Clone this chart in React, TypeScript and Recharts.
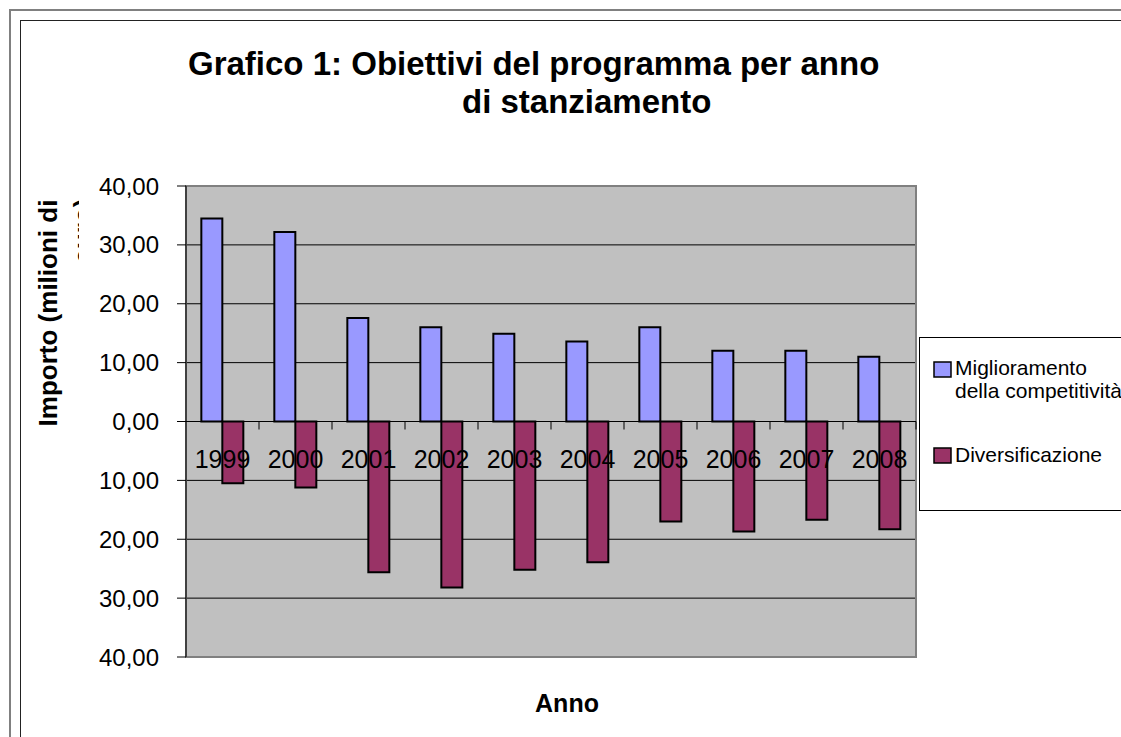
import { BarChart, Bar, XAxis, YAxis, CartesianGrid, ReferenceLine, ReferenceDot, ReferenceArea } from "recharts";

const YEARS = ["1999", "2000", "2001", "2002", "2003", "2004", "2005", "2006", "2007", "2008"];
// Diversificazione is plotted below zero, as in the original sheet
const MIGLIORAMENTO = [34.5, 32.2, 17.6, 16.0, 14.9, 13.6, 16.0, 12.0, 12.0, 11.0];
const DIVERSIFICAZIONE = [-10.5, -11.2, -25.6, -28.2, -25.2, -23.9, -17.0, -18.7, -16.7, -18.3];
const Y_TICKS = [40, 30, 20, 10, 0, -10, -20, -30, -40];
const GRID_VALUES = [30, 20, 10, 0, -10, -20, -30];

const SERIES = [
  { key: "migl", name: ["Miglioramento", "della competitività"], color: "#9999FF" },
  { key: "div", name: ["Diversificazione"], color: "#993366" },
];

const FONT = "'Liberation Sans', Arial, sans-serif";

const chartData = YEARS.map((year, i) => ({
  year,
  migl: MIGLIORAMENTO[i],
  div: DIVERSIFICAZIONE[i],
}));

// y labels are shown without sign, Italian decimal comma
const fmtTick = (v: number) => Math.abs(v).toFixed(2).replace(".", ",");

// zero line acts as the category axis: line + small ticks between categories
function ZeroAxis(props: any) {
  const { x1, y1, x2 } = props;
  const step = (x2 - x1) / YEARS.length;
  return (
    <g>
      <line x1={x1} y1={y1} x2={x2} y2={y1} stroke="#000" strokeWidth={1} />
      {YEARS.map((_, i) => (
        <line key={i} x1={x1 + (i + 1) * step} y1={y1} x2={x1 + (i + 1) * step} y2={y1 + 8} stroke="#000" strokeWidth={1} />
      ))}
    </g>
  );
}

export default function App() {
  return (
    <div style={{ position: "fixed", left: 0, top: 0, width: 1121, height: 737, overflow: "hidden", background: "#fff" }}>
      <svg width={1121} height={737} style={{ position: "absolute", left: 0, top: 0 }}>
        <defs>
          <clipPath id="euroClip">
            <rect x={0} y={0} width={79} height={737} />
          </clipPath>
        </defs>
        <rect x={10} y={10} width={1200} height={800} fill="none" stroke="#808080" strokeWidth={2} />
        <rect x={20.5} y={20.5} width={1200} height={800} fill="none" stroke="#222" strokeWidth={1} />
        <text x={188} y={75} fontFamily={FONT} fontWeight="bold" fontSize={33} fill="#000">
          Grafico 1: Obiettivi del programma per anno
        </text>
        <text x={462} y={113} fontFamily={FONT} fontWeight="bold" fontSize={33} fill="#000">
          di stanziamento
        </text>
        <text x={57} y={313} transform="rotate(-90 57 313)" textAnchor="middle" fontFamily={FONT} fontWeight="bold" fontSize={26} fill="#000">
          Importo (milioni di
        </text>
        <g clipPath="url(#euroClip)">
          <text x={92} y={231} transform="rotate(-90 92 231)" textAnchor="middle" fontFamily={FONT} fontWeight="bold" fontSize={26} fill="#000">
            euro)
          </text>
        </g>
        <text x={567} y={712} textAnchor="middle" fontFamily={FONT} fontWeight="bold" fontSize={25} fill="#000">
          Anno
        </text>
        {/* legend */}
        <rect x={919.5} y={337.5} width={260} height={173} fill="#fff" stroke="#000" strokeWidth={1} />
        <rect x={934} y={362} width={17} height={15} fill={SERIES[0].color} stroke="#000" strokeWidth={1.5} />
        <text x={955} y={375} fontFamily={FONT} fontSize={21} fill="#000">{SERIES[0].name[0]}</text>
        <text x={955} y={398} fontFamily={FONT} fontSize={21} fill="#000">{SERIES[0].name[1]}</text>
        <rect x={934} y={448} width={17} height={15} fill={SERIES[1].color} stroke="#000" strokeWidth={1.5} />
        <text x={955} y={462} fontFamily={FONT} fontSize={21} fill="#000">{SERIES[1].name[0]}</text>
      </svg>
      <div style={{ position: "absolute", left: 0, top: 0 }}>
        <BarChart
          width={1121}
          height={737}
          data={chartData}
          margin={{ top: 186, right: 205, bottom: 80, left: 0 }}
          barCategoryGap="21%"
          barGap={0}
        >
          <CartesianGrid vertical={false} horizontalValues={GRID_VALUES} stroke="#000" fill="#C0C0C0" fillOpacity={1} />
          <ReferenceArea y1={-40} y2={40} fill="none" stroke="#808080" strokeWidth={2} ifOverflow="extendDomain" />
          <XAxis dataKey="year" type="category" hide />
          <YAxis
            type="number"
            domain={[-40, 40]}
            ticks={Y_TICKS}
            interval={0}
            width={186}
            tickFormatter={fmtTick}
            tickSize={9}
            tickMargin={18}
            axisLine={{ stroke: "#000" }}
            tickLine={{ stroke: "#000" }}
            tick={{ fill: "#000", fontSize: 24, fontFamily: FONT }}
          />
          <Bar dataKey="migl" name="Miglioramento della competitività" fill={SERIES[0].color} stroke="#000" strokeWidth={2} isAnimationActive={false} />
          <Bar dataKey="div" name="Diversificazione" fill={SERIES[1].color} stroke="#000" strokeWidth={2} isAnimationActive={false} />
          <ReferenceLine y={0} shape={ZeroAxis} />
          {YEARS.map((yr) => (
            <ReferenceDot
              key={yr}
              x={yr}
              y={0}
              r={0}
              shape={(p: any) => (
                <text x={p.cx} y={p.cy + 46} textAnchor="middle" fontFamily={FONT} fontSize={25} fill="#000">
                  {yr}
                </text>
              )}
            />
          ))}
        </BarChart>
      </div>
    </div>
  );
}
